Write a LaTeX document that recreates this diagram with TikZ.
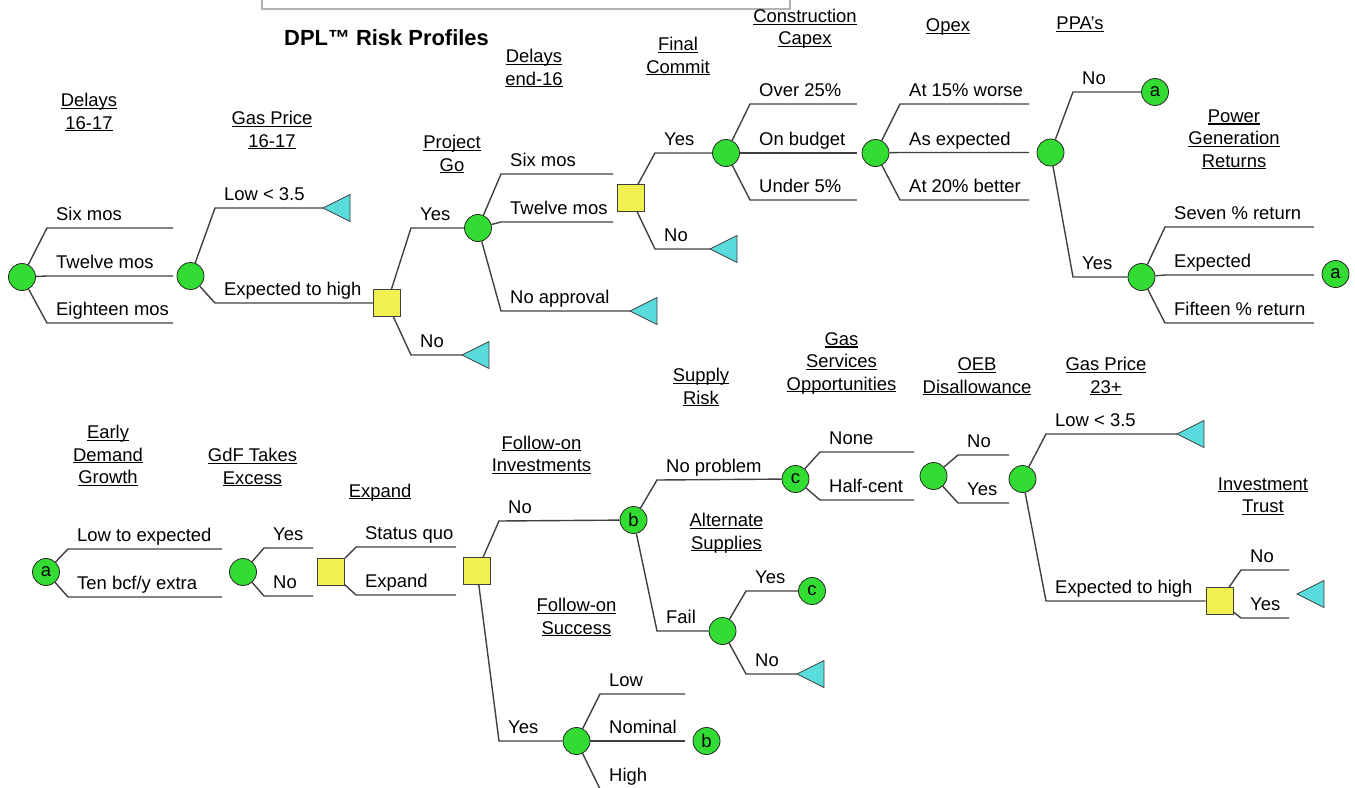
\documentclass[tikz,border=0pt]{standalone}
\usepackage{fontspec}
\setmainfont{Liberation Sans}

\definecolor{chancegreen}{RGB}{50,220,50}
\definecolor{decyellow}{RGB}{240,240,80}
\definecolor{endcyan}{RGB}{90,220,220}
\definecolor{branchgray}{RGB}{64,64,64}

% underlined header lines
\newsavebox\hdbox
\newcommand\uln[1]{\sbox\hdbox{#1}\rlap{\rule[-2.4bp]{\wd\hdbox}{1.1bp}}\usebox\hdbox}

\tikzset{
  chance/.style={circle, draw=black!85, fill=chancegreen, line width=0.8bp,
    minimum size=27bp, inner sep=0pt},
  refc/.style={chance},
  decision/.style={rectangle, draw=black!75, fill=decyellow, line width=0.8bp,
    minimum size=27bp, inner sep=0pt},
  branch/.style={draw=branchgray, line width=1.4bp},
  lbl/.style={anchor=base west, pos=0, xshift=8.5bp, yshift=7.5bp, inner sep=0pt},
  % base = baseline of the last line
  hdr/.style={align=center, anchor=base, inner sep=0pt},
  endtri/.pic={
    \draw[fill=endcyan, draw=black!75, line width=0.8bp]
      (0,0) -- (27,-13.5) -- (27,13.5) -- cycle;
  },
}

\begin{document}
\begin{tikzpicture}[x=1bp, y=-1bp, font=\fontsize{18.5}{22.5}\selectfont]
  \useasboundingbox (0,0) rectangle (1355,787);

  % box cut off at the top edge
  \draw[draw=black!30, line width=1.2bp] (262,-5) rectangle (790,9);

  \node[font=\fontsize{22}{26}\selectfont\bfseries, anchor=base west, inner sep=0pt]
    (title) at (284,45.5) {DPL™ Risk Profiles};

  % Headers, upper tree
  \node[hdr] (hDly)   at (89,129)    {\uln{Delays}\\\uln{16-17}};
  \node[hdr] (hGas)   at (272,147)   {\uln{Gas Price}\\\uln{16-17}};
  \node[hdr] (hGo)    at (452,171)   {\uln{Project}\\\uln{Go}};
  \node[hdr] (hDend)  at (534,85)    {\uln{Delays}\\\uln{end-16}};
  \node[hdr] (hFc)    at (678,73)    {\uln{Final}\\\uln{Commit}};
  \node[hdr] (hCapex) at (805,45)    {\uln{Construction}\\\uln{Capex}};
  \node[hdr] (hOpex)  at (948,31.5)  {\uln{Opex}};
  \node[hdr] (hPpa)   at (1080,29.5) {\uln{PPA's}};
  \node[hdr] (hPgr)   at (1234,167)  {\uln{Power}\\\uln{Generation}\\\uln{Returns}};

  % Headers, lower tree
  \node[hdr] (hEdg)   at (108,483.5) {\uln{Early}\\\uln{Demand}\\\uln{Growth}};
  \node[hdr] (hGdf)   at (252.5,484) {\uln{GdF Takes}\\\uln{Excess}};
  \node[hdr] (hExp)   at (380,497)   {\uln{Expand}};
  \node[hdr] (hFoi)   at (541.5,471.5) {\uln{Follow-on}\\\uln{Investments}};
  \node[hdr] (hFos)   at (576.5,634) {\uln{Follow-on}\\\uln{Success}};
  \node[hdr] (hSup)   at (701,404)   {\uln{Supply}\\\uln{Risk}};
  \node[hdr] (hGso)   at (841.5,390) {\uln{Gas}\\\uln{Services}\\\uln{Opportunities}};
  \node[hdr] (hAlt)   at (726.5,549) {\uln{Alternate}\\\uln{Supplies}};
  \node[hdr] (hOeb)   at (977,393)   {\uln{OEB}\\\uln{Disallowance}};
  \node[hdr] (hGp23)  at (1106,393)  {\uln{Gas Price}\\\uln{23+}};
  \node[hdr] (hIt)    at (1263,512.5) {\uln{Investment}\\\uln{Trust}};

  % Upper tree nodes
  \node[chance]   (dly)   at (22,277)     {};
  \node[chance]   (gas)   at (190.5,276)  {};
  \node[decision] (go)    at (387,303)    {};
  \node[chance]   (dend)  at (478,228)    {};
  \node[decision] (fc)    at (630.5,198)  {};
  \node[chance]   (capex) at (726,153)    {};
  \node[chance]   (opex)  at (875.5,153)  {};
  \node[chance]   (ppa)   at (1050.5,152.5) {};
  \node[chance]   (pgr)   at (1141.5,277) {};
  \node[refc]     (a1)    at (1155,92)    {a};
  \node[refc]     (a2)    at (1335.5,274) {a};

  \coordinate (dly1) at (173,228);
  \coordinate (dly2) at (173,276);
  \coordinate (dly3) at (173,323);
  \coordinate (gasT) at (323,208);
  \coordinate (goT)  at (462,355);
  \coordinate (dend1) at (613,174);
  \coordinate (dend2) at (613,222);
  \coordinate (dendT) at (630,311);
  \coordinate (fcT)  at (710,249);
  \coordinate (capex1) at (857,104);
  \coordinate (capex2) at (857,153);
  \coordinate (capex3) at (857,200);
  \coordinate (opex1) at (1029,104);
  \coordinate (opex2) at (1029,152.5);
  \coordinate (opex3) at (1029,200);
  \coordinate (pgr1) at (1314,227);
  \coordinate (pgr2) at (1314,275);
  \coordinate (pgr3) at (1314,323);

  \draw[branch] (dly) -- (47,228) -- node[lbl]{Six mos} (dly1);
  \draw[branch] (dly) -- (47,276) -- node[lbl]{Twelve mos} (dly2);
  \draw[branch] (dly) -- (47,323) -- node[lbl]{Eighteen mos} (dly3);

  \draw[branch] (gas) -- (215,208) -- node[lbl]{Low < 3.5} (gasT);
  \draw[branch] (gas) -- (215,303) -- node[lbl]{Expected to high} (go);

  \draw[branch] (go) -- (411,228) -- node[lbl]{Yes} (dend);
  \draw[branch] (go) -- (411,355) -- node[lbl]{No} (goT);

  \draw[branch] (dend) -- (501,174) -- node[lbl]{Six mos} (dend1);
  \draw[branch] (dend) -- (501,222) -- node[lbl]{Twelve mos} (dend2);
  \draw[branch] (dend) -- (501,311) -- node[lbl]{No approval} (dendT);

  \draw[branch] (fc) -- (655,153) -- node[lbl]{Yes} (capex);
  \draw[branch] (fc) -- (655,249) -- node[lbl]{No} (fcT);

  \draw[branch] (capex) -- (750,104) -- node[lbl]{Over 25\%} (capex1);
  \draw[branch] (capex) -- (750,153) -- node[lbl]{On budget} (capex2);
  \draw[branch] (capex) -- (750,200) -- node[lbl]{Under 5\%} (capex3);

  \draw[branch] (opex) -- (900,104) -- node[lbl]{At 15\% worse} (opex1);
  \draw[branch] (opex) -- (900,152.5) -- node[lbl]{As expected} (opex2);
  \draw[branch] (opex) -- (900,200) -- node[lbl]{At 20\% better} (opex3);

  \draw[branch] (ppa) -- (1073,92) -- node[lbl]{No} (a1);
  \draw[branch] (ppa) -- (1073,277) -- node[lbl]{Yes} (pgr);

  \draw[branch] (pgr) -- (1165,227) -- node[lbl]{Seven \% return} (pgr1);
  \draw[branch] (pgr) -- (1165,275) -- node[lbl]{Expected} (pgr2);
  \draw[branch] (pgr) -- (1165,323) -- node[lbl]{Fifteen \% return} (pgr3);

  \pic at (gasT)  {endtri};
  \pic at (goT)   {endtri};
  \pic at (dendT) {endtri};
  \pic at (fcT)   {endtri};

  % Lower tree nodes
  \node[refc]     (a0)   at (46,572)     {a};
  \node[chance]   (gdf)  at (243,572)    {};
  \node[decision] (exp)  at (331,572)    {};
  \node[decision] (foi)  at (477,571)    {};
  \node[refc]     (b1)   at (633.5,520)  {b};
  \node[refc]     (c1)   at (795.5,479)  {c};
  \node[chance]   (alt)  at (722.5,631)  {};
  \node[refc]     (c2)   at (812,591)    {c};
  \node[chance]   (fos)  at (576.5,741)  {};
  \node[refc]     (b2)   at (706.5,741)  {b};
  \node[chance]   (oeb)  at (933.5,476)  {};
  \node[chance]   (gp23) at (1022.5,479) {};
  \node[decision] (it)   at (1219.5,601) {};

  \coordinate (a01) at (222,549);
  \coordinate (a02) at (222,597);
  \coordinate (gdf1) at (313,548);
  \coordinate (gdf2) at (313,596);
  \coordinate (exp1) at (456,547);
  \coordinate (exp2) at (456,595);
  \coordinate (c11) at (914,452);
  \coordinate (c12) at (914,500);
  \coordinate (altT) at (797,674);
  \coordinate (fos1) at (685,694);
  \coordinate (fos2) at (685,741);
  \coordinate (fos3) at (685,789);
  \coordinate (oeb1) at (1009,455);
  \coordinate (oeb2) at (1009,503);
  \coordinate (gp23T) at (1177,434);
  \coordinate (it1) at (1289,570);
  \coordinate (it2) at (1289,618);
  \coordinate (itT) at (1297,594);

  \draw[branch] (a0) -- (68,549) -- node[lbl]{Low to expected} (a01);
  \draw[branch] (a0) -- (68,597) -- node[lbl]{Ten bcf/y extra} (a02);

  \draw[branch] (gdf) -- (264,548) -- node[lbl]{Yes} (gdf1);
  \draw[branch] (gdf) -- (264,596) -- node[lbl]{No} (gdf2);

  \draw[branch] (exp) -- (356,547) -- node[lbl]{Status quo} (exp1);
  \draw[branch] (exp) -- (356,595) -- node[lbl]{Expand} (exp2);

  \draw[branch] (foi) -- (499,521) -- node[lbl]{No} (b1);
  \draw[branch] (foi) -- (499,741) -- node[lbl]{Yes} (fos);

  \draw[branch] (b1) -- (657,480) -- node[lbl]{No problem} (c1);
  \draw[branch] (b1) -- (657,631) -- node[lbl]{Fail} (alt);

  \draw[branch] (c1) -- (820,452) -- node[lbl]{None} (c11);
  \draw[branch] (c1) -- (820,500) -- node[lbl]{Half-cent} (c12);

  \draw[branch] (alt) -- (746,591) -- node[lbl]{Yes} (c2);
  \draw[branch] (alt) -- (746,674) -- node[lbl]{No} (altT);

  \draw[branch] (fos) -- (600,694) -- node[lbl]{Low} (fos1);
  \draw[branch] (fos) -- (600,741) -- node[lbl]{Nominal} (fos2);
  \draw[branch] (fos) -- (600,789) -- node[lbl]{High} (fos3);

  \draw[branch] (oeb) -- (958,455) -- node[lbl]{No} (oeb1);
  \draw[branch] (oeb) -- (958,503) -- node[lbl]{Yes} (oeb2);

  \draw[branch] (gp23) -- (1046,434) -- node[lbl]{Low < 3.5} (gp23T);
  \draw[branch] (gp23) -- (1046,601) -- node[lbl]{Expected to high} (it);

  \draw[branch] (it) -- (1241,570) -- node[lbl]{No} (it1);
  \draw[branch] (it) -- (1241,618) -- node[lbl]{Yes} (it2);

  \pic at (altT)  {endtri};
  \pic at (gp23T) {endtri};
  \pic at (itT)   {endtri};
  %\pic at (fos3) {endtri};
\end{tikzpicture}
\end{document}
